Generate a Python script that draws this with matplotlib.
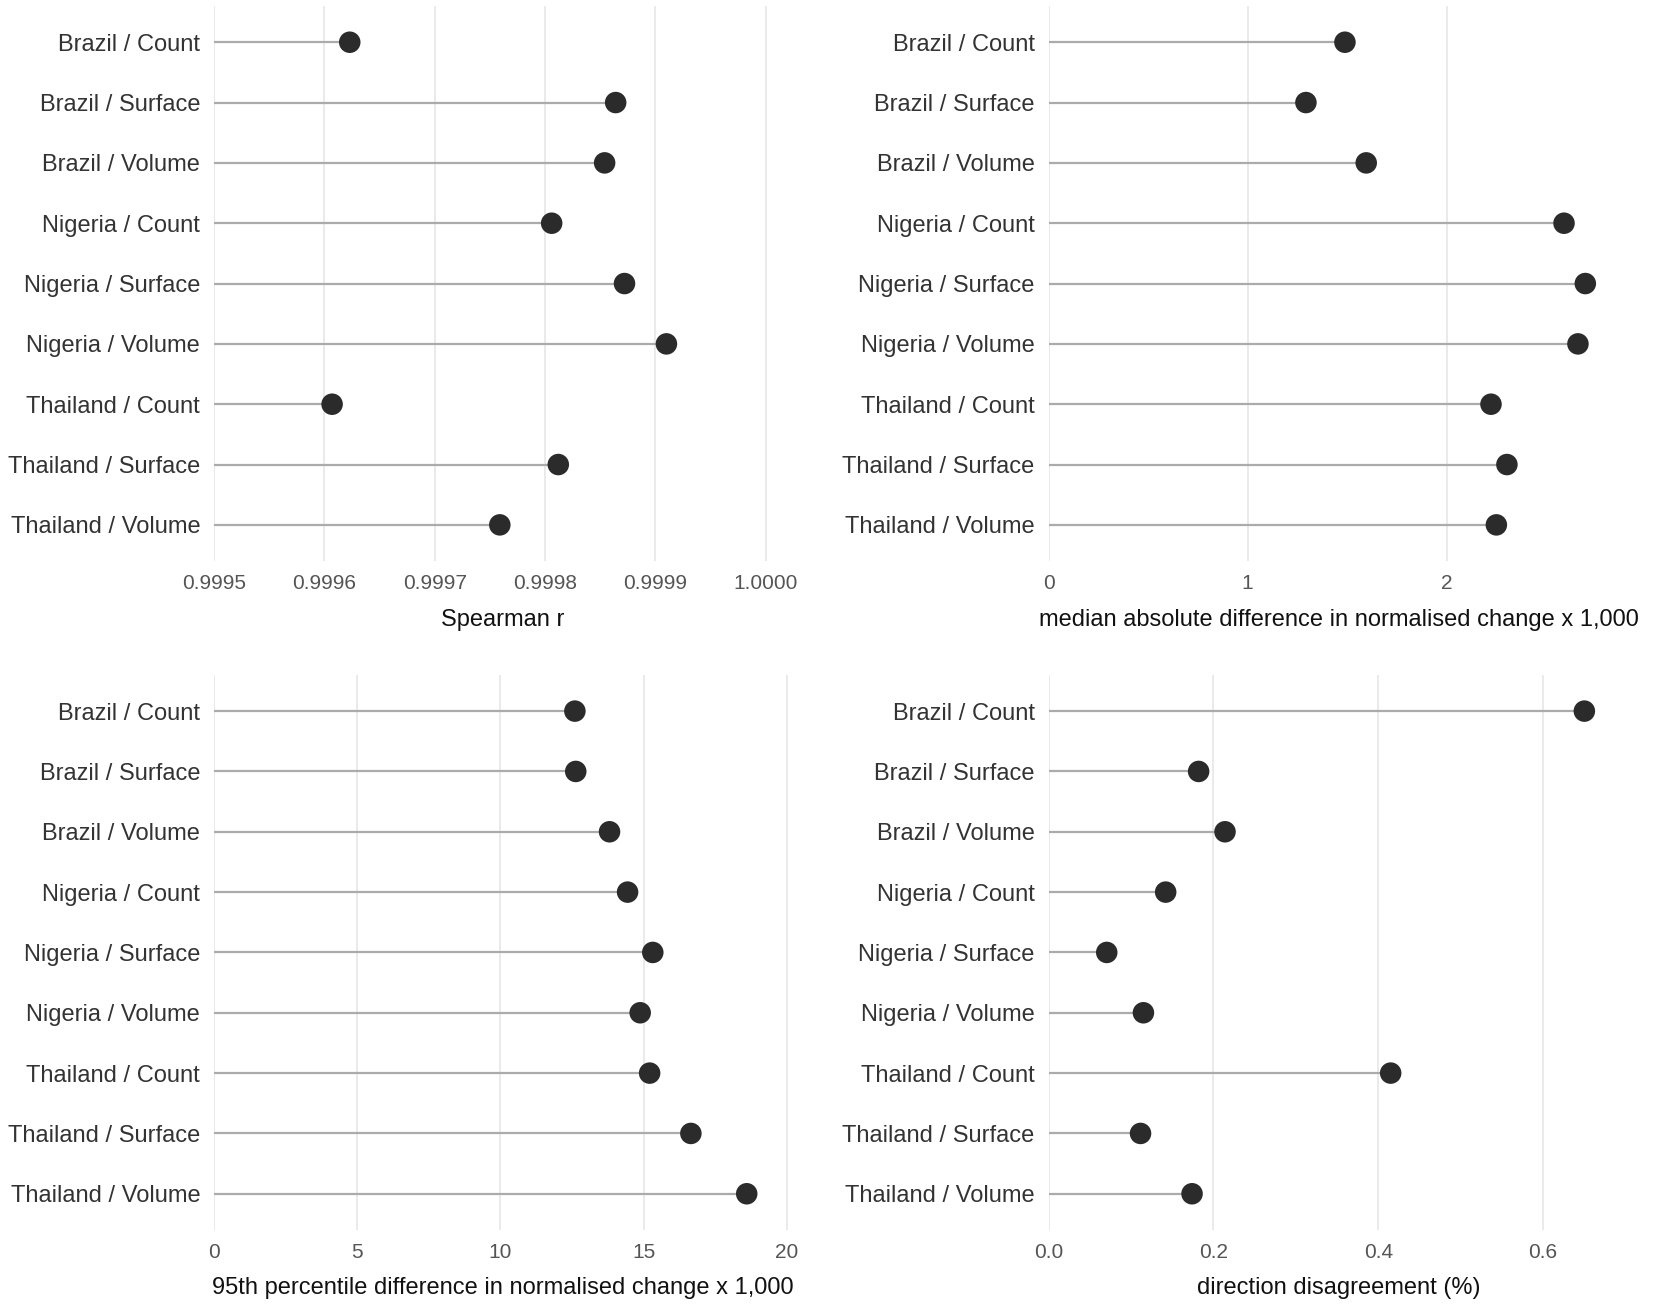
import numpy as np
import matplotlib.pyplot as plt

plt.rcParams["font.family"] = ["Liberation Sans", "DejaVu Sans"]

LABELS = [
    "Brazil / Count", "Brazil / Surface", "Brazil / Volume",
    "Nigeria / Count", "Nigeria / Surface", "Nigeria / Volume",
    "Thailand / Count", "Thailand / Surface", "Thailand / Volume",
]

SPEARMAN = [0.999623, 0.999864, 0.999854, 0.999806, 0.999872,
            0.999910, 0.999607, 0.999812, 0.999759]
MEDIAN_DIFF = [1.489, 1.293, 1.596, 2.590, 2.697, 2.660, 2.223, 2.303, 2.250]
P95_DIFF = [12.60, 12.63, 13.81, 14.44, 15.32, 14.88, 15.21, 16.65, 18.60]
DIRECTION = [0.650, 0.182, 0.214, 0.142, 0.0705, 0.115, 0.415, 0.1115, 0.174]

PANELS = [
    (SPEARMAN, "Spearman r", (0.9995, 1.000023),
     [0.9995, 0.9996, 0.9997, 0.9998, 0.9999, 1.0000], "{:.4f}"),
    (MEDIAN_DIFF, "median absolute difference in normalised change x 1,000",
     (0, 2.92), [0, 1, 2], "{:.0f}"),
    (P95_DIFF, "95th percentile difference in normalised change x 1,000",
     (0, 20.15), [0, 5, 10, 15, 20], "{:.0f}"),
    (DIRECTION, "direction disagreement (%)", (0, 0.705),
     [0.0, 0.2, 0.4, 0.6], "{:.1f}"),
]

# axes rectangles in figure fractions (left, bottom, width, height)
RECTS = [
    (0.1294, 0.5717, 0.3489, 0.4237),
    (0.6340, 0.5717, 0.3513, 0.4237),
    (0.1294, 0.0611, 0.3489, 0.4237),
    (0.6340, 0.0611, 0.3513, 0.4237),
]

fig = plt.figure(figsize=(16.54, 13.10), dpi=100)

for (vals, xlabel, xlim, ticks, fmt), rect in zip(PANELS, RECTS):
    ax = fig.add_axes(rect)
    y = np.arange(len(LABELS))
    ax.hlines(y, xlim[0], vals, color="#ababab", lw=1.6, zorder=2)
    ax.scatter(vals, y, s=240, color="#2b2b2b", zorder=3, edgecolors="none")

    ax.set_xlim(xlim)
    ax.set_ylim(len(LABELS) - 0.4, -0.6)
    ax.set_yticks(y)
    ax.set_yticklabels(LABELS, fontsize=17, color="#333333")
    ax.set_xticks(ticks)
    ax.set_xticklabels([fmt.format(t) for t in ticks], fontsize=15, color="#555555")
    ax.set_xlabel(xlabel, fontsize=17, color="#111111", labelpad=11)

    ax.tick_params(axis="both", length=0)
    ax.tick_params(axis="y", pad=10)
    ax.tick_params(axis="x", pad=9.5)
    ax.grid(axis="x", color="#e6e6e6", lw=1.2, zorder=0)
    ax.set_axisbelow(True)
    for sp in ax.spines.values():
        sp.set_visible(False)

fig.savefig("out.png", dpi=100, facecolor="white")
